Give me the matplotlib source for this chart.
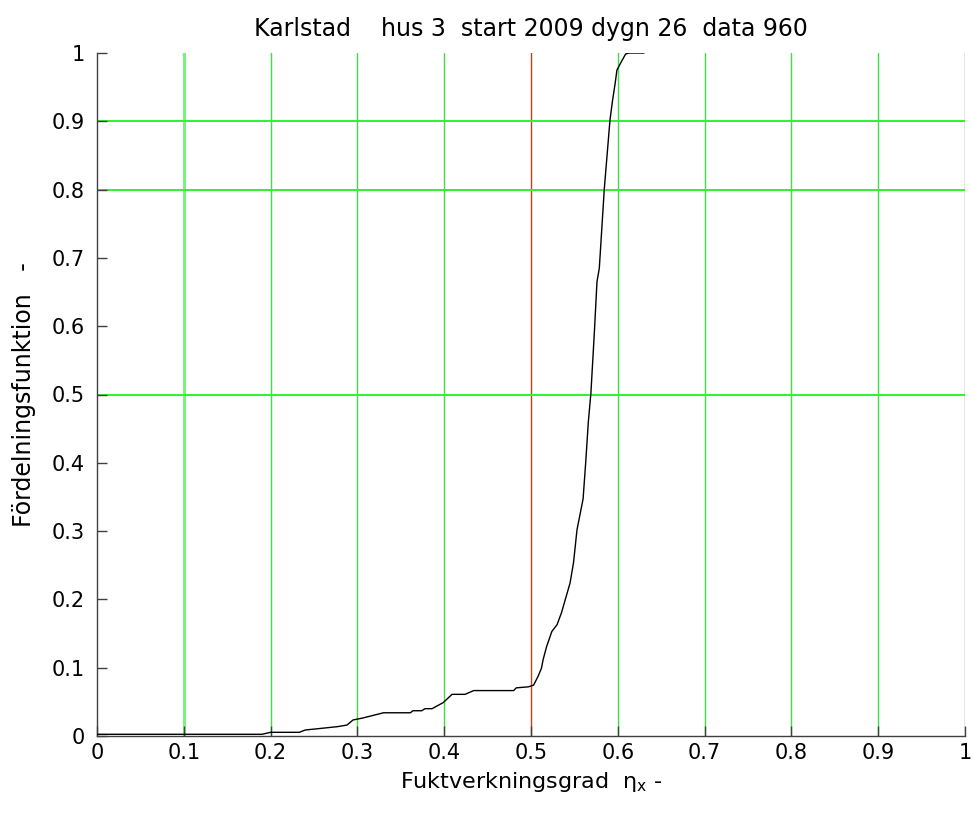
import matplotlib
matplotlib.use("Agg")
import matplotlib.pyplot as plt
import numpy as np

plt.rcParams.update({
    "font.family": ["DejaVu Sans"],
    "font.size": 15,
    "mathtext.fontset": "dejavusans",
})

# empirical distribution of the moisture efficiency (960 samples)
eta = [0.0, 0.19, 0.20, 0.233, 0.24, 0.257, 0.277, 0.288, 0.295, 0.305,
       0.3145, 0.33, 0.361, 0.364, 0.374, 0.378, 0.386, 0.399, 0.409, 0.424,
       0.434, 0.480, 0.483, 0.497, 0.503, 0.508, 0.512, 0.514, 0.518, 0.524,
       0.530, 0.535, 0.545, 0.549, 0.553, 0.560, 0.563, 0.566, 0.569, 0.573,
       0.576, 0.5787, 0.5845, 0.591, 0.594, 0.597, 0.599, 0.604, 0.609, 0.613,
       0.630]
cdf = [0.0025, 0.0025, 0.0054, 0.0054, 0.0088, 0.011, 0.0137, 0.016, 0.0235, 0.026,
       0.029, 0.034, 0.034, 0.037, 0.037, 0.040, 0.040, 0.049, 0.061, 0.061,
       0.0665, 0.0665, 0.0705, 0.072, 0.0745, 0.087, 0.099, 0.112, 0.131, 0.153,
       0.163, 0.180, 0.224, 0.254, 0.302, 0.347, 0.400, 0.459, 0.502, 0.591,
       0.665, 0.685, 0.802, 0.902, 0.931, 0.956, 0.975, 0.987, 0.9985, 1.0,
       1.0]

ticks = np.round(np.arange(0, 1.01, 0.1), 1)
tick_labels = ["0", "0.1", "0.2", "0.3", "0.4", "0.5", "0.6", "0.7", "0.8", "0.9", "1"]
green_x = [0.2, 0.3, 0.4, 0.6, 0.7, 0.8, 0.9]
green_y = [0.5, 0.8, 0.9]

fig = plt.figure(figsize=(9.73, 8.16), dpi=100)
ax = fig.add_axes([97 / 973, 80 / 816, 868 / 973, 683 / 816])

# reference lines
ax.axvline(0.1, color="#7cf27c", lw=2.2, zorder=1)
for x in green_x:
    ax.axvline(x, color="#3fe03f", lw=1.0, zorder=1)
ax.axvline(0.5, color="#b0461c", lw=1.0, zorder=1)
ax.axvline(1.0, color="#808080", lw=1.0, zorder=1)
for y in green_y:
    ax.axhline(y, color="#2ef22e", lw=1.4, zorder=1)

ax.plot(eta, cdf, color="black", lw=1.0, zorder=3)

ax.set_xlim(0, 1)
ax.set_ylim(0, 1)
ax.set_xticks(ticks)
ax.set_xticklabels(tick_labels)
ax.set_yticks(ticks)
ax.set_yticklabels(tick_labels)
ax.tick_params(direction="in", length=7, width=1, color="#404040", labelsize=15)
ax.tick_params(axis="x", pad=5)
ax.tick_params(axis="y", pad=9)

for side in ("top", "right"):
    ax.spines[side].set_visible(False)
for side in ("left", "bottom"):
    ax.spines[side].set_color("#404040")
    ax.spines[side].set_linewidth(1.0)

ax.set_title("Karlstad    hus 3  start 2009 dygn 26  data 960", fontsize=17, pad=12)
ax.set_xlabel(r"Fuktverkningsgrad  η$_{\mathrm{x}}$ -", fontsize=16, labelpad=5)
ax.set_ylabel("Fördelningsfunktion   -", fontsize=17, labelpad=11)

fig.savefig("out.png", dpi=100, facecolor="white")
